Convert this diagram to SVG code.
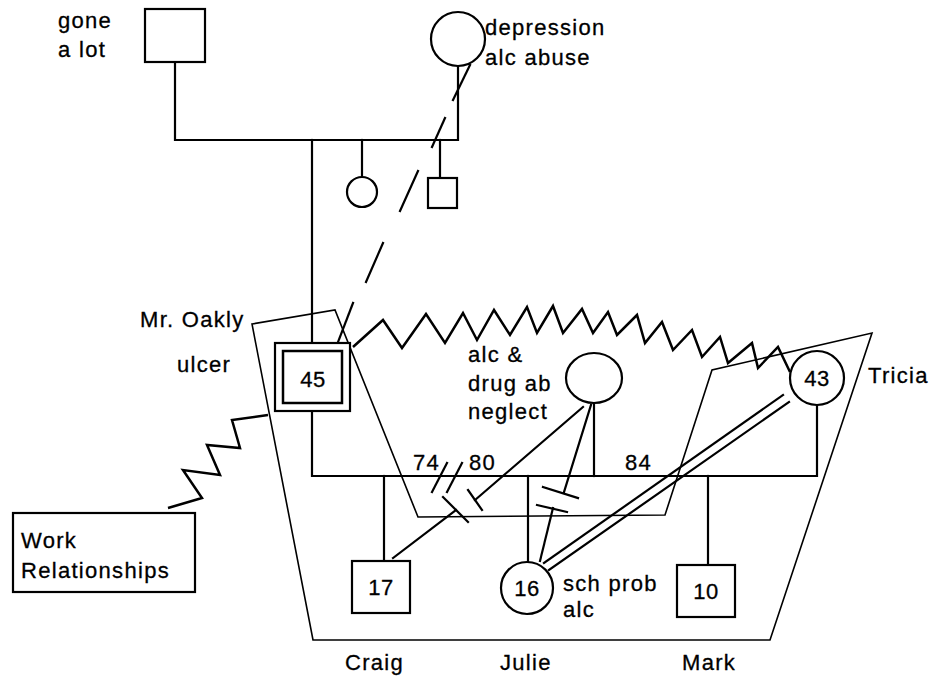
<svg xmlns="http://www.w3.org/2000/svg" width="933" height="677" viewBox="0 0 933 677">
<style>
.ln{fill:none;stroke:#000;stroke-width:2.2;stroke-linecap:square}
.thin{fill:none;stroke:#000;stroke-width:1.6;stroke-linejoin:miter}
.zz{fill:none;stroke:#000;stroke-width:2.5;stroke-linejoin:miter}
.sym{fill:#fff;stroke:#000;stroke-width:2.2}
text{font-family:"Liberation Sans",Arial,sans-serif;font-size:22px;letter-spacing:1.3px;fill:#000;stroke:#000;stroke-width:0.3}
.num{text-anchor:middle;letter-spacing:0.5px}
</style>
<rect width="933" height="677" fill="#fff"/>
<g id="household-boundary">
<polygon class="thin" points="252,324 335,310 418,517 665,515 712,370 872,333 770,640 313,640"/>
</g>
<g id="connectors">
<polyline class="ln" points="175,62 175,140 458,140 458,66"/>
<line class="ln" x1="362" y1="140" x2="362" y2="177"/>
<line class="ln" x1="440" y1="140" x2="440" y2="178"/>
<line class="ln" x1="312" y1="140" x2="312" y2="343"/>
<polyline class="ln" points="312,411 312,476 817,476 817,405"/>
<line class="ln" x1="594" y1="403" x2="594" y2="476"/>
<line class="ln" x1="384" y1="476" x2="384" y2="561"/>
<line class="ln" x1="528" y1="476" x2="528" y2="562"/>
<line class="ln" x1="708" y1="476" x2="708" y2="565"/>
<g class="ln">
<line x1="470" y1="65" x2="453" y2="100"/>
<line x1="445" y1="118" x2="432" y2="147"/>
<line x1="418" y1="171" x2="400" y2="211"/>
<line x1="383" y1="243" x2="366" y2="282"/>
<line x1="353" y1="303" x2="338" y2="342"/>
</g>
<g class="ln">
<line x1="447" y1="463" x2="432" y2="492"/>
<line x1="462" y1="463" x2="447" y2="492"/>
</g>
<g class="ln">
<line x1="583" y1="407" x2="475" y2="500"/>
<line x1="468" y1="490" x2="482" y2="510"/>
<line x1="393" y1="558" x2="456" y2="510"/>
<line x1="443" y1="497" x2="468" y2="522"/>
<line x1="591" y1="405" x2="564" y2="492"/>
<line x1="543" y1="487" x2="578" y2="498"/>
<line x1="540" y1="561" x2="553" y2="508"/>
<line x1="537" y1="505" x2="567" y2="512"/>
</g>
<g class="ln">
<line x1="544" y1="563" x2="783" y2="395"/>
<line x1="549" y1="570" x2="789" y2="402"/>
</g>
<polyline class="zz" points="353,347 383,320 402,348 426,314 445,343 463,313 477,340 494,310 510,335 527,307 537,333 553,306 563,333 582,309 593,333 608,312 617,335 637,315 645,343 662,322 673,350 692,330 702,357 720,337 728,363 752,343 758,368 778,347 790,372"/>
<polyline class="zz" points="168,508 202,498 183,470 220,475 207,445 240,448 232,420 268,415"/>
</g>
<g id="grandfather">
<rect class="sym" x="145" y="9" width="60" height="53"/>
<text x="58" y="28">gone</text>
<text x="58" y="57">a lot</text>
</g>
<g id="grandmother">
<circle class="sym" cx="458" cy="39" r="27"/>
<text x="485" y="35">depression</text>
<text x="485" y="65">alc abuse</text>
</g>
<g id="aunt">
<circle class="sym" cx="362" cy="192" r="15"/>
</g>
<g id="uncle">
<rect class="sym" x="428" y="178" width="29" height="30"/>
</g>
<g id="mr-oakly">
<rect class="sym" x="275" y="343" width="75" height="68"/>
<rect class="sym" x="283" y="351" width="59" height="52" style="stroke-width:2.5"/>
<text class="num" x="313" y="387">45</text>
<text x="140" y="327">Mr. Oakly</text>
<text x="177" y="372">ulcer</text>
</g>
<g id="first-wife">
<ellipse class="sym" cx="594" cy="378" rx="28" ry="25"/>
<text x="468" y="362">alc &amp;</text>
<text x="468" y="391">drug ab</text>
<text x="468" y="419">neglect</text>
</g>
<g id="tricia">
<circle class="sym" cx="817" cy="378" r="27"/>
<text class="num" x="817" y="386">43</text>
<text x="868" y="383">Tricia</text>
</g>
<g id="marriage-labels">
<text x="413" y="470">74</text>
<text x="469" y="470">80</text>
<text x="625" y="470">84</text>
</g>
<g id="craig">
<rect class="sym" x="352" y="561" width="58" height="52"/>
<text class="num" x="381" y="595">17</text>
<text x="345" y="670">Craig</text>
</g>
<g id="julie">
<circle class="sym" cx="527" cy="588" r="26"/>
<text class="num" x="527" y="596">16</text>
<text x="563" y="591">sch prob</text>
<text x="563" y="617">alc</text>
<text x="500" y="670">Julie</text>
</g>
<g id="mark">
<rect class="sym" x="677" y="565" width="58" height="52"/>
<text class="num" x="706" y="599">10</text>
<text x="682" y="670">Mark</text>
</g>
<g id="work">
<rect class="sym" x="13" y="513" width="182" height="79"/>
<text x="21" y="548">Work</text>
<text x="21" y="578">Relationships</text>
</g>
</svg>
